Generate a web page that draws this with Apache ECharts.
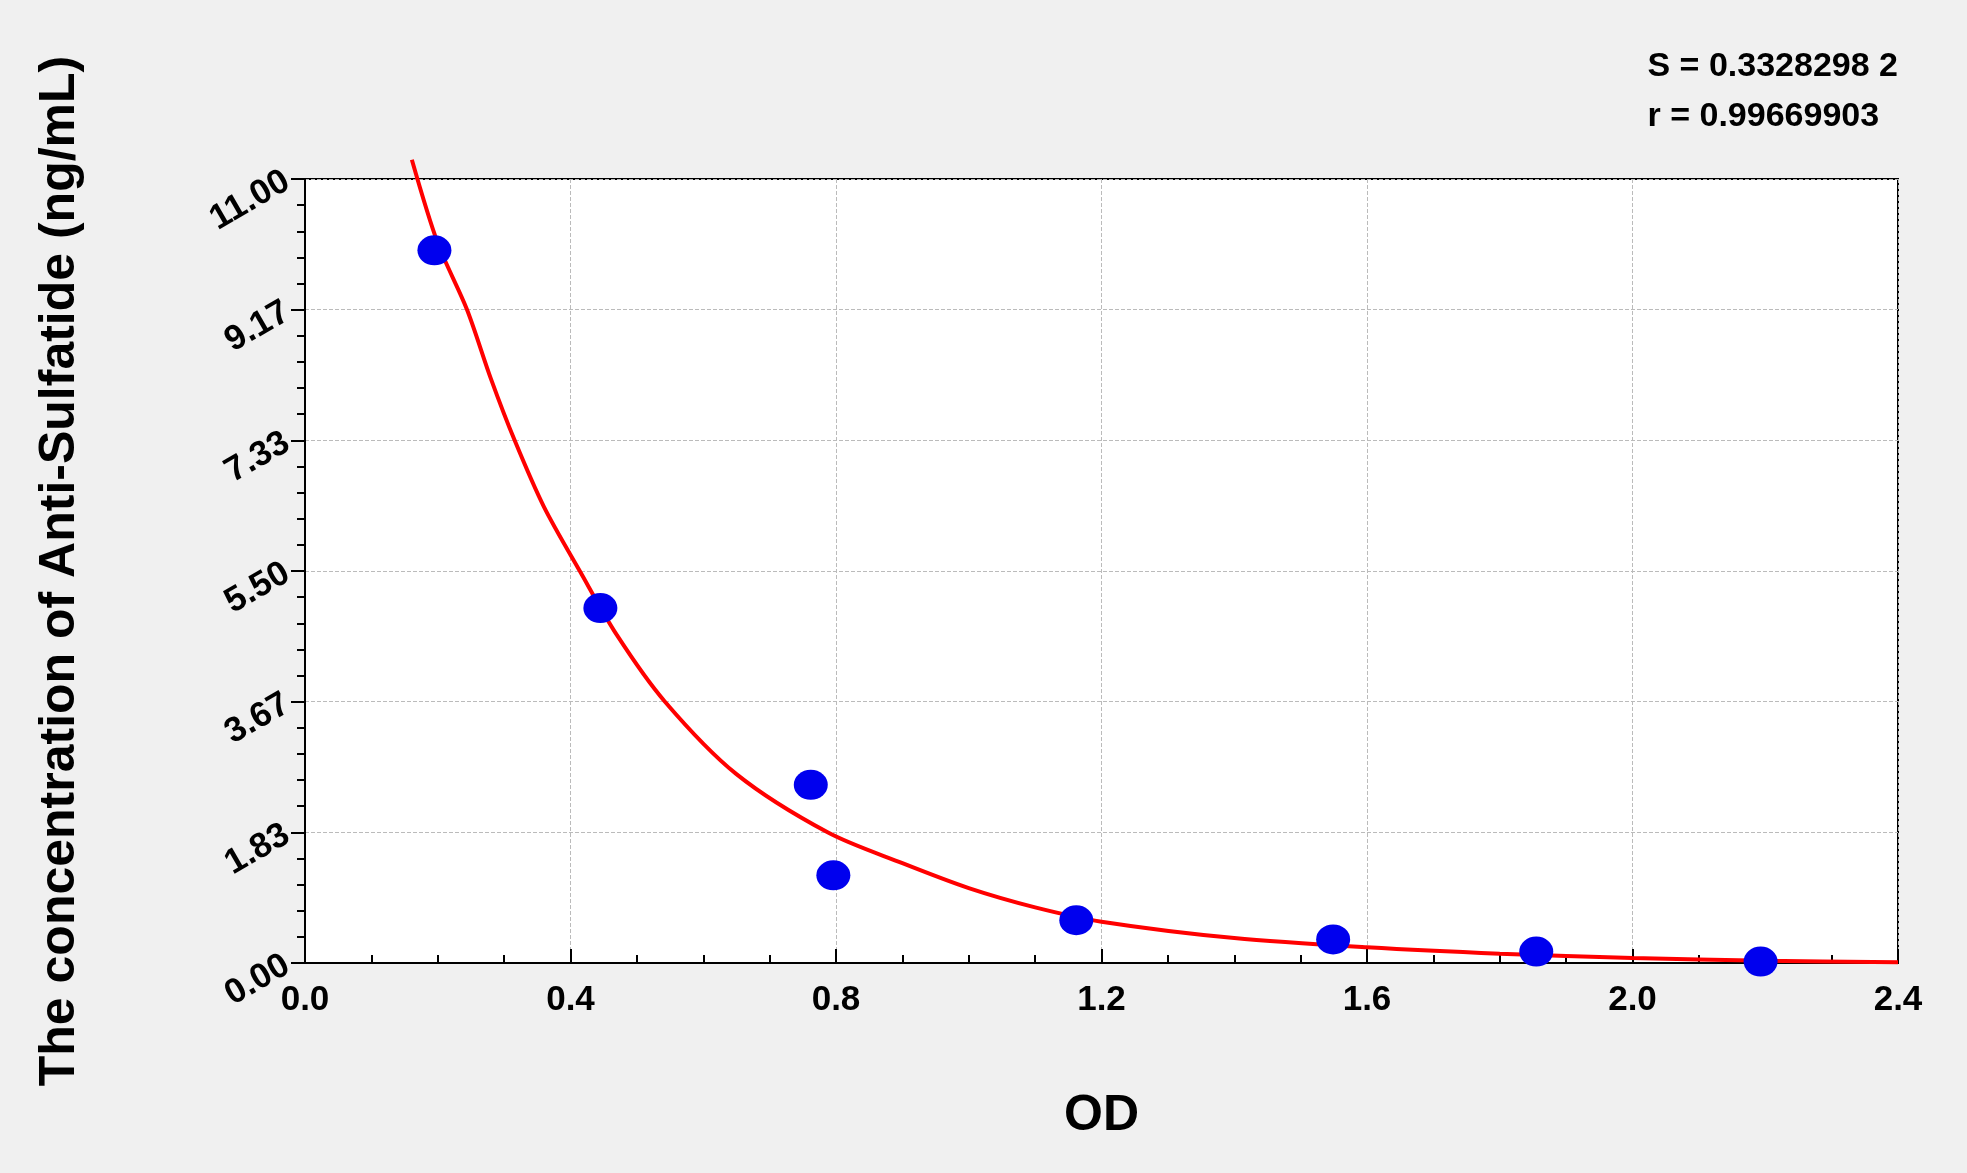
<!DOCTYPE html>
<html>
<head>
    <meta charset="utf-8">
    <title>Anti-Sulfatide standard curve</title>
    <script src="https://cdn.jsdelivr.net/npm/echarts@6/dist/echarts.min.js"></script>
    <style>
        html, body { margin: 0; padding: 0; background: #f0f0f0; }
        #chart1 { width: 1967px; height: 1173px; }
    </style>
</head>
<body>
<div id="chart1"></div>
<script type="text/javascript">
    // measured standards (OD, concentration)
    var pointOD = [0.195, 0.445, 0.762, 0.796, 1.162, 1.549, 1.855, 2.193];
    var pointConc = [10.0, 4.98, 2.5, 1.23, 0.6, 0.33, 0.16, 0.02];
    // fitted curve
    var curveOD = [0.161, 0.2, 0.244, 0.28, 0.316, 0.36, 0.414, 0.47, 0.542, 0.65, 0.788, 0.9, 1.0, 1.1, 1.2, 1.4, 1.6, 1.8, 2.0, 2.2, 2.4];
    var curveConc = [11.27, 10.1, 9.17, 8.2, 7.33, 6.4, 5.5, 4.6, 3.67, 2.65, 1.83, 1.4, 1.05, 0.78, 0.58, 0.35, 0.22, 0.13, 0.07, 0.03, 0.01];
    var statLines = ['S = 0.3328298 2', 'r = 0.99669903'];

    var font = 'Liberation Sans, Arial, sans-serif';
    var myChart1 = echarts.init(document.getElementById('chart1'));
    myChart1.setOption({
        backgroundColor: '#f0f0f0',
        animation: false,
        textStyle: { fontFamily: font },
        graphic: [{
            type: 'text', right: 69, top: 42,
            style: { text: statLines.join('\n'), align: 'right', font: 'bold 34px ' + font, fill: '#000', lineHeight: 50 }
        }],
        grid: { left: 305, right: 69, top: 179, bottom: 210, show: true, borderColor: '#000', borderWidth: 2, backgroundColor: '#fff' },
        xAxis: {
            type: 'value', min: 0, max: 2.4, interval: 0.4,
            name: 'OD', nameLocation: 'middle', nameGap: 128,
            nameTextStyle: { fontSize: 50, fontWeight: 'bold', color: '#000' },
            axisLine: { lineStyle: { color: '#000', width: 2 } },
            axisTick: { inside: true, length: 14, lineStyle: { color: '#000', width: 2 } },
            minorTick: { show: true, splitNumber: 4, length: 8, lineStyle: { color: '#000', width: 2 } },
            axisLabel: { fontSize: 35, fontWeight: 'bold', color: '#000', margin: 20, formatter: function (v) { return v.toFixed(1); } },
            splitLine: { show: true, lineStyle: { color: '#bbb', type: 'dashed' } }
        },
        yAxis: {
            type: 'value', min: 0, max: 11, interval: 11 / 6,
            name: 'The concentration of Anti-Sulfatide (ng/mL)', nameLocation: 'middle', nameGap: 220,
            nameTextStyle: { fontSize: 50, fontWeight: 'bold', color: '#000' },
            axisLine: { show: true, lineStyle: { color: '#000', width: 2 } },
            axisTick: { length: 14, lineStyle: { color: '#000', width: 2 } },
            minorTick: { show: true, splitNumber: 5, length: 8, lineStyle: { color: '#000', width: 2 } },
            axisLabel: { fontSize: 35, fontWeight: 'bold', color: '#000', rotate: 30, margin: 18, formatter: function (v) { return v.toFixed(2); } },
            splitLine: { show: true, lineStyle: { color: '#bbb', type: 'dashed' } }
        },
        series: [{
            type: 'line', clip: false, symbol: 'none', smooth: 0.3,
            lineStyle: { color: '#ff0000', width: 4 },
            data: curveOD.map(function (x, i) { return [x, curveConc[i]]; }),
            z: 3
        }, {
            type: 'scatter', symbolSize: [34, 30],
            itemStyle: { color: '#0000ee', opacity: 1 },
            data: pointOD.map(function (x, i) { return [x, pointConc[i]]; }),
            z: 4
        }]
    });
</script>
</body>
</html>
